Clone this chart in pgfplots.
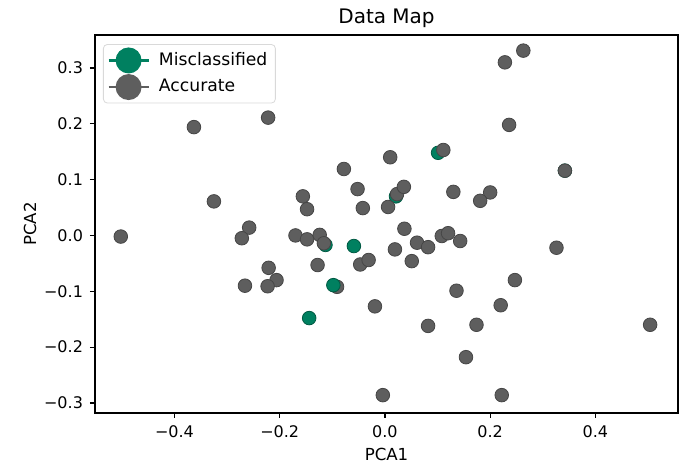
\documentclass[border=0pt]{standalone}
\usepackage{fontspec}
\setmainfont{DejaVu Sans}
\usepackage{pgfplots}
\pgfplotsset{compat=1.18}
\definecolor{misgreen}{RGB}{0,128,96}
\definecolor{accgray}{RGB}{94,94,94}
\begin{document}
\begin{tikzpicture}
\useasboundingbox (-47.5pt,-28pt) rectangle (294pt,206.5pt);
\begin{axis}[
  at={(0pt,0pt)}, anchor=south west,
  scale only axis, width=291.5pt, height=189pt,
  xmin=-0.551, xmax=0.557, ymin=-0.318, ymax=0.359,
  xtick={-0.4,-0.2,0,0.2,0.4},
  xticklabels={−0.4,−0.2,0.0,0.2,0.4},
  ytick={-0.3,-0.2,-0.1,0,0.1,0.2,0.3},
  yticklabels={−0.3,−0.2,−0.1,0.0,0.1,0.2,0.3},
  xtick pos=left, ytick pos=left, tick align=outside,
  major tick length=2.5pt,
  every tick/.style={black, line width=0.6pt},
  axis line style={line width=0.7pt},
  tick label style={font=\fontsize{8}{9.6}\selectfont},
  xticklabel style={yshift=-0.5pt},
  label style={font=\fontsize{8.3}{10}\selectfont},
  xlabel={PCA1}, ylabel={PCA2},
  xlabel style={at={(0.5,0)}, anchor=base, yshift=-23.5pt},
  ylabel style={at={(axis description cs:-0.1115,0.5)}, anchor=center},
  title={Data Map},
  title style={font=\fontsize{10}{12}\selectfont, at={(0.5,1)}, anchor=base, yshift=-0.5pt},
  legend cell align=left,
  legend style={at={(0.0137,0.976)}, anchor=north west, draw=black!15,
    rounded corners=2pt, font=\fontsize{8.6}{10}\selectfont,
    inner xsep=2pt, inner ysep=1.5pt, row sep=0.3pt},
  legend image code/.code={
    \draw[line width=1.2pt, mark=none] (0pt,0pt) -- (20pt,0pt);
    \fill[draw=none] (10pt,0pt) circle (6.5pt);
    \path (23pt,0pt);
  },
]
% misclassified hidden under accurate points
\addplot[only marks, color=misgreen, mark=*, mark size=3.4pt,
  mark options={fill=misgreen, draw=misgreen!70!black, line width=0.4pt}]
  coordinates {
  (0.101,0.148) (0.342,0.116) (-0.113,-0.017) (0.021,0.070)
  };
\addlegendentry{Misclassified}
\addplot[only marks, color=accgray, mark=*, mark size=3.4pt,
  mark options={fill=accgray, draw=accgray!75!black, line width=0.4pt}]
  coordinates {
  (-0.502,-0.002) (-0.363,0.194) (-0.222,0.211) (-0.325,0.061)
  (-0.258,0.014) (-0.272,-0.005) (-0.266,-0.090) (-0.221,-0.058)
  (-0.206,-0.080) (-0.223,-0.091) (-0.170,0.000) (-0.148,-0.007)
  (-0.124,0.001) (-0.116,-0.014) (-0.128,-0.053) (-0.091,-0.092)
  (-0.019,-0.127) (-0.004,-0.286) (-0.047,-0.052) (-0.031,-0.044)
  (0.019,-0.025) (0.010,0.140) (-0.078,0.119) (-0.052,0.083)
  (-0.042,0.049) (0.006,0.051) (0.023,0.074) (0.036,0.087)
  (-0.156,0.070) (-0.148,0.047) (0.037,0.012) (0.061,-0.013)
  (0.051,-0.046) (0.082,-0.021) (0.108,-0.001) (0.120,0.004)
  (0.143,-0.010) (0.236,0.198) (0.111,0.153) (0.342,0.116)
  (0.130,0.078) (0.200,0.077) (0.181,0.062) (0.326,-0.022)
  (0.247,-0.080) (0.263,0.331) (0.228,0.310) (0.136,-0.099)
  (0.220,-0.125) (0.082,-0.162) (0.174,-0.160) (0.154,-0.218)
  (0.504,-0.160) (0.222,-0.286)
  };
\addlegendentry{Accurate}
% misclassified on top
\addplot[only marks, color=misgreen, mark=*, mark size=3.4pt, forget plot,
  mark options={fill=misgreen, draw=misgreen!70!black, line width=0.4pt}]
  coordinates {
  (-0.059,-0.019) (-0.098,-0.089) (-0.144,-0.148)
  };
\end{axis}
\end{tikzpicture}
\end{document}
